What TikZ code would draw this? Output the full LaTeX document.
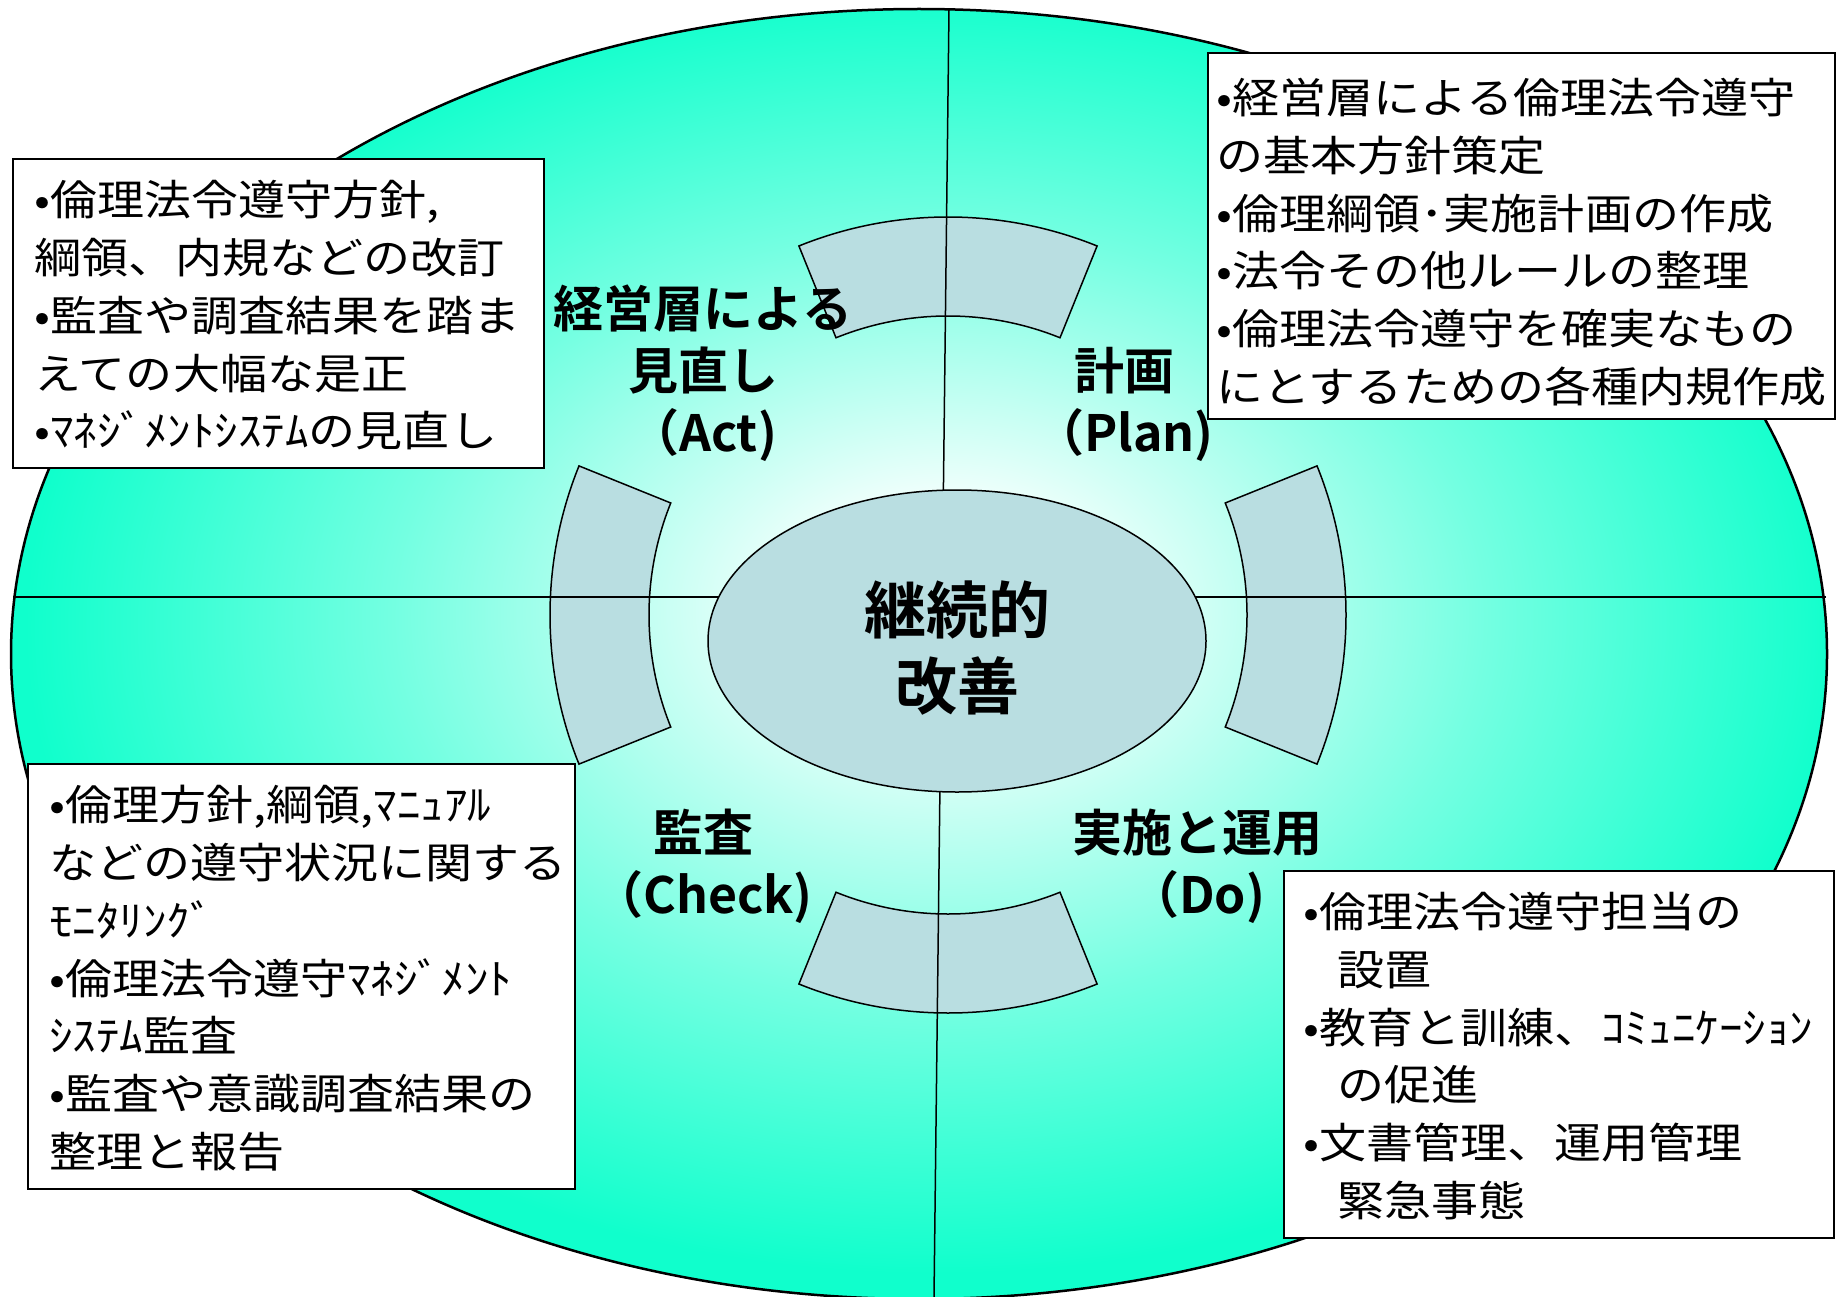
\documentclass[tikz,border=0pt]{standalone}
\usepackage{fontspec}
\setmainfont{Noto Sans CJK JP}[BoldFont={Noto Sans CJK JP Bold}]
\newfontfamily\boxfont{Noto Sans CJK JP}[FakeStretch=1.12]
\usetikzlibrary{shapes.geometric,calc}
\definecolor{aq}{RGB}{16,255,204}
\definecolor{segfill}{RGB}{185,222,225}
\colorlet{aqmid}{white!42!aq}
\pgfdeclareradialshading{bgshade}{\pgfpoint{0.8bp}{2bp}}{color(0bp)=(white); color(3bp)=(white); color(15bp)=(aqmid); color(25bp)=(aq); color(50bp)=(aq)}
\tikzset{
  outerell/.style={ellipse, draw=black, line width=2.5pt, shade, shading=bgshade,
    minimum width=1816pt, minimum height=1290pt, inner sep=0pt},
  coreell/.style={ellipse, draw=black, line width=1.5pt, fill=segfill,
    minimum width=498pt, minimum height=302pt, inner sep=0pt},
  seg/.style={draw=black, line width=1.5pt, fill=segfill},
  axisline/.style={draw=black, line width=1.5pt},
  infobox/.style={draw=black, line width=2pt, fill=white, inner sep=0pt, anchor=north west},
  infotext/.style={anchor=north west, inner sep=0pt, align=left,
    font=\boxfont\fontsize{42}{57.8}\selectfont},
  phase/.style={font=\bfseries\fontsize{50}{62}\selectfont, align=center, inner sep=0pt},
  corelbl/.style={font=\bfseries\fontsize{62}{76}\selectfont, align=center, inner sep=0pt},
}
\begin{document}
\begin{tikzpicture}[x=1pt,y=-1pt]
\fill[white] (0,0) rectangle (1838,1297);
\useasboundingbox (0,0) rectangle (1838,1297);
\begin{scope}
  \clip (0,0) rectangle (1838,1297);
  \node[outerell] (outer) at (919,654) {};
\end{scope}
% four ring segments
\coordinate (C) at (948,615);
\foreach \a in {0,90,180,270} {
  \draw[seg] ($(C)+(\a-22:299pt)$) -- ($(C)+(\a-22:398pt)$)
    arc[start angle=\a-22, end angle=\a+22, radius=398pt]
    -- ($(C)+(\a+22:299pt)$)
    arc[start angle=\a+22, end angle=\a-22, radius=299pt] -- cycle;
}
% axes
\coordinate (vtop) at (949,9);
\coordinate (vbot) at (934,1297);
\coordinate (hleft) at (13,597);
\coordinate (hright) at (1826,597);
\draw[axisline] (vtop) -- (vbot);
\draw[axisline] (hleft) -- (hright);
% centre
\node[coreell] (core) at (957,641) {};
\node[corelbl] (corelabel) at (957,648) {継続的\\改善};
% phase labels
\node[phase] (act) at (703,373) {経営層による\\見直し\\（Act)};
\node[phase] (plan) at (1124,404) {計画\\（Plan)};
\node[phase] (check) at (703,866) {監査\\（Check)};
\node[phase] (do) at (1197,866) {実施と運用\\（Do)};
% boxes
\node[infobox, minimum width=531pt, minimum height=309pt] (tlbox) at (12,158) {};
\node[infotext] (tltext) at (34,180) {•倫理法令遵守方針,\\綱領、内規などの改訂\\•監査や調査結果を踏ま\\えての大幅な是正\\•ﾏﾈｼﾞﾒﾝﾄｼｽﾃﾑの見直し};
\node[infobox, minimum width=627pt, minimum height=366pt] (trbox) at (1207,52) {};
\node[infotext] (trtext) at (1216,78) {•経営層による倫理法令遵守\\の基本方針策定\\•倫理綱領･実施計画の作成\\•法令その他ルールの整理\\•倫理法令遵守を確実なもの\\にとするための各種内規作成};
\node[infobox, minimum width=547pt, minimum height=425pt] (blbox) at (27,763) {};
\node[infotext] (bltext) at (49,785) {•倫理方針,綱領,ﾏﾆｭｱﾙ\\などの遵守状況に関する\\ﾓﾆﾀﾘﾝｸﾞ\\•倫理法令遵守ﾏﾈｼﾞﾒﾝﾄ\\ｼｽﾃﾑ監査\\•監査や意識調査結果の\\整理と報告};
\node[infobox, minimum width=550pt, minimum height=367pt] (brbox) at (1283,870) {};
\node[infotext] (brtext) at (1303,892) {•倫理法令遵守担当の\\\hspace*{34pt}設置\\•教育と訓練、ｺﾐｭﾆｹｰｼｮﾝ\\\hspace*{34pt}の促進\\•文書管理、運用管理\\\hspace*{34pt}緊急事態};
\end{tikzpicture}
\end{document}
